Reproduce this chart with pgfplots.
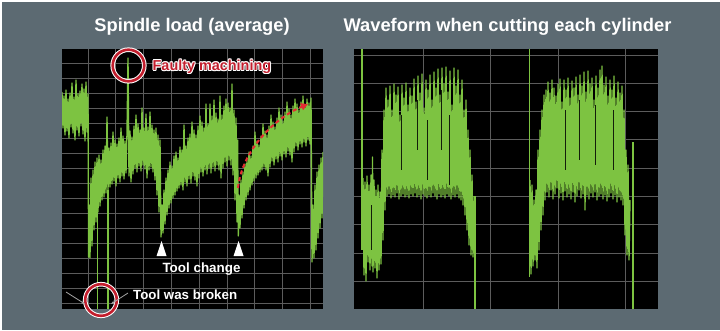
\documentclass[border=0pt]{standalone}
\usepackage{pgfplots}
\pgfplotsset{compat=1.18}
\usepackage{fontspec}
\setmainfont{Liberation Sans}
\usetikzlibrary{arrows.meta}
\definecolor{bg}{RGB}{92,106,114}
\definecolor{sig}{RGB}{125,195,65}
\definecolor{gridc}{RGB}{92,92,92}
\definecolor{cred}{RGB}{195,30,45}
\definecolor{ared}{RGB}{228,45,50}
\pgfplotsset{panel/.style={scale only axis, anchor=south west, y dir=reverse,
  axis background/.style={fill=black}, axis line style={draw=none},
  xticklabels={}, yticklabels={}, major tick length=0pt, grid=major,
  grid style={gridc, line width=0.9pt}, clip=true},
  sigl/.style={sig, line width=1.35pt, line join=round, no marks},
  gap/.style={black!85!sig, line width=0.6pt, no marks, unbounded coords=jump}}
\begin{document}
\begin{tikzpicture}[x=1pt,y=-1pt]
\fill[white] (0,0) rectangle (720,330);
\fill[bg] (2,2) rectangle (720,330);
% ---------- left panel ----------
\begin{axis}[panel, at={(62pt,-309pt)}, width=261pt, height=260pt,
  xmin=62, xmax=323, ymin=49, ymax=309,
  xtick={88,115.8,143.6,171.4,199.2,227,254.8,282.6,310.4},
  ytick={63,78,...,303}]
\addplot[sigl] coordinates {(62,92)(63,128)(64,96)(65,135)(66,90)(67,131)(68,99)(69,138)(70,93)(71,127)(72,83)(73,133)(74,97)(75,140)(76,80)(77,130)(78,94)(79,136)(80,91)(81,126)(82,84)(83,134)(84,89)(85,141)(86,82)(87,132)(88,94)(88.6,257)
(89,205)(90,258)(91,178)(92,246)(93,170)(94,230)(95,162)(96,222)(97,158)(98,212)(99,155)(100,206)(101,160)(102,200)(103,150)(104,197)(105,146)(106,193)(107,117)(108,190)(109,148)(110,187)(111,143)(112,184)(113,132)(114,181)(115,140)(116,186)(117,144)(118,178)(119,138)(120,182)(121,128)(122,176)(123,136)(124,179)(125,141)(126,173)(127,133)(128,58)(129,176)(130,131)(131,182)(132,137)(133,174)(134,126)(135,168)(136,115)(137,172)(138,124)(139,166)(140,130)(141,171)(142,108)(143,165)(144,128)(145,169)(146,114)(147,178)(148,127)(149,170)(150,112)(151,167)(152,125)(153,172)(154,130)(155,180)(156,128)(157,195)(158,135)(159,212)(160,140)(161,237)
(162,205)(163,233)(164,190)(165,224)(166,178)(167,215)(168,170)(169,208)(170,162)(171,203)(172,166)(173,198)(174,156)(175,195)(176,152)(177,191)(178,158)(179,188)(180,147)(181,185)(182,150)(183,190)(184,125)(185,182)(186,146)(187,186)(188,138)(189,179)(190,134)(191,183)(192,122)(193,176)(194,130)(195,180)(196,135)(197,186)(198,126)(199,178)(200,116)(201,172)(202,122)(203,176)(204,128)(205,170)(206,104)(207,174)(208,124)(209,168)(210,104)(211,173)(212,116)(213,167)(214,100)(215,171)(216,113)(217,165)(218,119)(219,170)(220,96)(221,178)(222,115)(223,168)(224,106)(225,162)(226,99)(227,166)(228,103)(229,160)(230,108)(231,165)(232,84)(233,175)(234,110)(235,200)(236,118)(237,222)(237.6,140)(238.3,236)
(239,195)(240,228)(241,180)(242,218)(243,172)(244,208)(245,164)(246,200)(247,160)(248,195)(249,152)(250,190)(251,156)(252,185)(253,146)(254,181)(255,132)(256,178)(257,141)(258,175)(259,145)(260,172)(261,136)(262,170)(263,124)(264,167)(265,131)(266,170)(267,135)(268,176)(269,126)(270,167)(271,115)(272,161)(273,122)(274,165)(275,127)(276,159)(277,118)(278,162)(279,108)(280,156)(281,115)(282,160)(283,121)(284,154)(285,112)(286,157)(287,102)(288,151)(289,109)(290,155)(291,115)(292,162)(293,106)(294,152)(295,99)(296,146)(297,104)(298,150)(299,110)(300,144)(301,102)(302,147)(303,96)(304,142)(305,105)(306,146)(307,99)(308,140)(309,103)(310,144)(311,98)(312,262)(313,205)(314,258)(315,185)(316,250)(317,172)(318,238)(319,165)(320,228)(321,158)(322,218)(323,152)};
\addplot[sig, line width=1.1pt, no marks] coordinates {(97.5,200)(97.5,309)};
\addplot[sig, line width=1.1pt, no marks] coordinates {(108,190)(108,309)};
\end{axis}
% ---------- right panel ----------
\begin{axis}[panel, at={(354pt,-309pt)}, width=304pt, height=260pt,
  xmin=354, xmax=658, ymin=49, ymax=309,
  xtick={423,490.5,558,625.5},
  ytick={55,83.3,111.6,139.9,168.2,196.5,224.8,253.1,281.4}]
\addplot[sig, line width=1.1pt, no marks] coordinates {(362,49)(362,250)};
\addplot[sigl] coordinates {(363,178)(364,275)(365,182)(366,281)(367,176)(368,262)(369,185)(370,270)(371,175)(372,266)(372.5,157)(373,272)(374,180)(375,268)(376,190)(377,278)(378,185)(379,270)(380,192)(381,264)(382,150)(383,240)(384,110)(385,210)
(386,88)(387,196)(388,100)(389,194)(390,86)(391,198)(392,110)(393,195)(394,84)(395,197)(396,95)(397,193)(398,87)(399,199)(400,115)(401,196)(402,85)(403,194)(404,98)(405,197)(406,83)(407,195)(408,105)(409,198)(410,88)(411,194)(412,96)(413,196)(414,79)(415,193)(416,102)(417,197)(418,76)(419,195)(420,93)(421,199)(422,74)(423,194)(424,108)(425,196)(426,80)(427,198)(428,90)(429,195)(430,75)(431,197)(432,100)(433,193)(434,72)(435,196)(436,88)(437,199)(438,69)(439,194)(440,95)(441,197)(442,68)(443,195)(444,84)(445,198)(446,67)(447,194)(448,92)(449,196)(450,71)(451,199)(452,105)(453,195)(454,68)(455,197)(456,86)(457,194)(458,70)(459,198)(460,95)(461,200)(462,80)(463,205)(464,110)(465,215)(466,100)(467,230)(468,130)(469,245)(470,150)(471,255)(472,175)(473,257)(474,196)};
\addplot[sig, line width=1.1pt, no marks] coordinates {(475,196)(475,309)};
\addplot[sig, line width=1.1pt, no marks] coordinates {(529.5,49)(529.5,277)};
\addplot[sigl] coordinates {(530,180)(531,274)(532,185)(533,266)(534,200)(535,260)(536,190)(537,268)(538,150)(539,250)(540,130)(541,230)(542,110)(543,215)(544,95)(545,200)(546,90)(547,192)(548,82)(549,197)(550,93)(551,190)(552,80)(553,199)(554,88)(555,194)(556,96)(557,188)(558,84)(559,198)(560,79)(561,193)(562,102)(563,200)(564,80)(565,191)(566,90)(567,197)(568,78)(569,194)(570,98)(571,199)(572,81)(573,192)(574,88)(575,202)(576,77)(577,196)(578,95)(579,190)(580,75)(581,198)(582,86)(583,194)(584,72)(585,210)(586,92)(587,195)(588,71)(589,199)(590,84)(591,193)(592,78)(593,197)(594,100)(595,192)(596,76)(597,200)(598,88)(599,196)(600,70)(601,194)(602,66)(603,199)(604,85)(605,195)(606,77)(607,201)(608,96)(609,197)(610,80)(611,193)(612,90)(613,199)(614,76)(615,195)(616,98)(617,202)(618,82)(619,197)(620,93)(621,200)(622,86)(623,205)(624,110)(625,235)(626,150)(627,255)(628,165)(629,260)(630,200)};
\addplot[sig, line width=1.1pt, no marks] coordinates {(633,142)(633,309)};
\addplot[gap] coordinates {(371.5,205)(371.5,250)(nan,nan)(401.5,115)(401.5,170)(nan,nan)(417.5,100)(417.5,150)(nan,nan)(427.5,120)(427.5,180)(nan,nan)(441.5,90)(441.5,150)(nan,nan)(449.5,115)(449.5,185)(nan,nan)(565.5,110)(565.5,170)(nan,nan)(579.5,100)(579.5,160)(nan,nan)(595.5,105)(595.5,165)(nan,nan)(613.5,110)(613.5,170)};
\end{axis}
% ---------- titles ----------
\node[white, anchor=base, font=\fontsize{18.3}{20}\selectfont\bfseries, inner sep=0] at (192,31.6) {Spindle load (average)};
\node[white, anchor=base, font=\fontsize{18.3}{20}\selectfont\bfseries, inner sep=0] at (507.5,31.6) {Waveform when cutting each cylinder};
% ---------- annotations ----------
\draw[white, line width=4.6pt] (128.5,65.5) circle[radius=15.8pt];
\draw[cred, line width=2.6pt] (128.5,65.5) circle[radius=15.8pt];
\draw[white, line width=4.6pt] (101,300) circle[radius=15.8pt];
\draw[cred, line width=2.6pt] (101,300) circle[radius=15.8pt];
\foreach \dx/\dy in {-1/0,1/0,0/-1,0/1,-0.7/-0.7,0.7/0.7,-0.7/0.7,0.7/-0.7}
  \node[white, anchor=base west, font=\fontsize{14.4}{16}\selectfont\bfseries, inner sep=0] at (152.5+\dx,70.6+\dy) {Faulty machining};
\node[cred, anchor=base west, font=\fontsize{14.4}{16}\selectfont\bfseries, inner sep=0] at (152.5,70.6) {Faulty machining};
\draw[ared, line width=2pt, dash pattern=on 4pt off 3pt, -{Triangle[length=7pt,width=7pt]}] (238,188) .. controls (242,150) and (275,118) .. (308,104);
\fill[white] (161.5,241) -- (166.5,256) -- (156.5,256) -- cycle;
\fill[white] (238.5,241) -- (243.5,256) -- (233.5,256) -- cycle;
\node[white, anchor=base, font=\fontsize{13.4}{15}\selectfont\bfseries, inner sep=0] at (201.5,272) {Tool change};
\node[white, anchor=base west, font=\fontsize{13.3}{15}\selectfont\bfseries, inner sep=0] at (133,299) {Tool was broken};
\draw[black!35, line width=0.8pt, -{Stealth[length=4pt,width=3pt]}] (66,292) -- (85,304);
\draw[black!35, line width=0.8pt, -{Stealth[length=4pt,width=3pt]}] (128,293) -- (111,304);
\pgfresetboundingbox
\useasboundingbox (0,0) rectangle (720,330);
\end{tikzpicture}
\end{document}
